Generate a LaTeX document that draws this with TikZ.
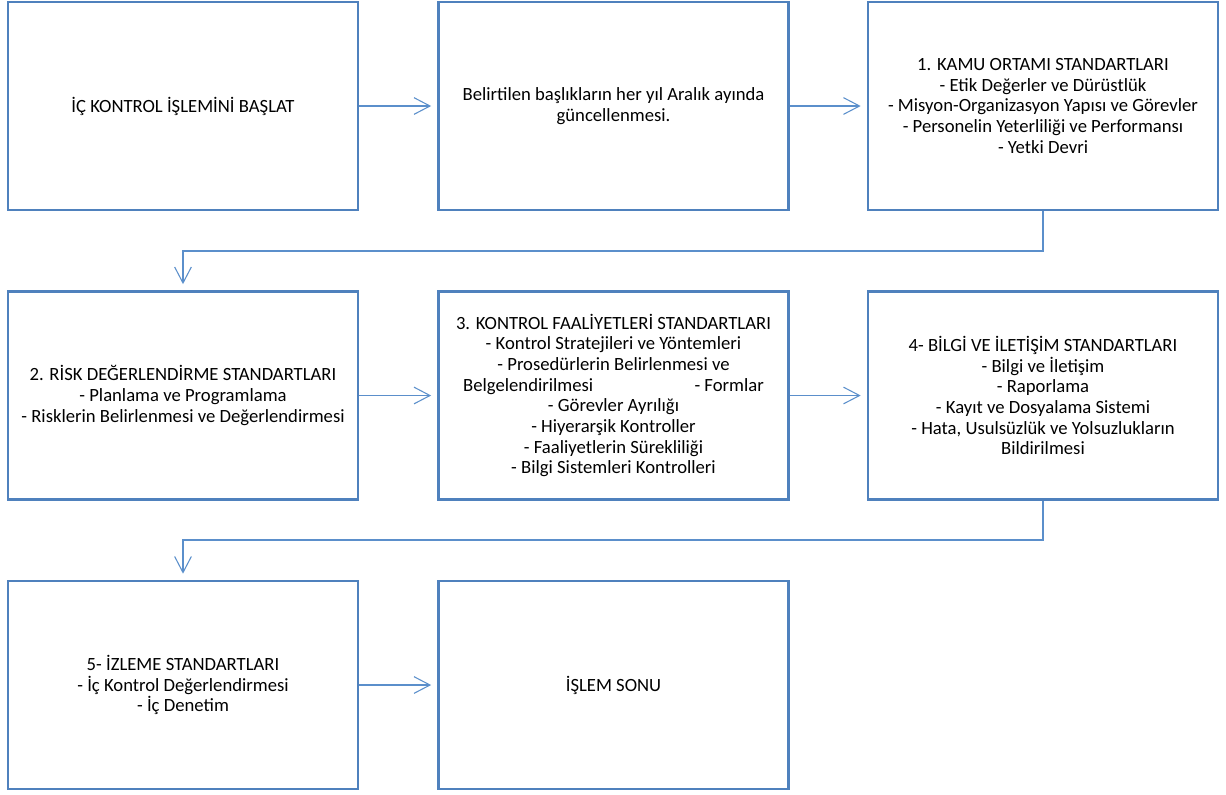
\documentclass[tikz,border=0pt]{standalone}
\usepackage{fontspec}
\setmainfont{Carlito}
\usepackage{xcolor}
\usetikzlibrary{arrows.meta,positioning,calc}

\definecolor{boxblue}{HTML}{4F81BD}
\definecolor{lineblue}{HTML}{5B8FCB}

\begin{document}
\begin{tikzpicture}[
    x=0.75pt, y=-0.75pt,
    stepbox/.style={rectangle, draw=boxblue, line width=2pt, fill=white, minimum width=262.5pt, minimum height=156pt, align=center, font=\fontsize{14}{15.5}\selectfont, text=black},
    arrow/.style={-{Straight Barb[length=12pt,width=12.5pt]}, draw=lineblue, line width=0.8pt, shorten >=4.5pt}
]
\useasboundingbox (0,0) rectangle (1226,794);

% Row 1
\node[stepbox] (start) at (183,106) {İÇ KONTROL İŞLEMİNİ BAŞLAT};
\node[stepbox] (update) at (613.5,106) {Belirtilen başlıkların her yıl Aralık ayında\\güncellenmesi.};
\node[stepbox] (kamu) at (1043,106) {1. KAMU ORTAMI STANDARTLARI\\- Etik Değerler ve Dürüstlük\\- Misyon-Organizasyon Yapısı ve Görevler\\- Personelin Yeterliliği ve Performansı\\- Yetki Devri};

% Row 2
\node[stepbox] (risk) at (183,395.5) {2. RİSK DEĞERLENDİRME STANDARTLARI\\- Planlama ve Programlama\\- Risklerin Belirlenmesi ve Değerlendirmesi};
\node[stepbox] (kontrol) at (613.5,395.5) {3. KONTROL FAALİYETLERİ STANDARTLARI\\- Kontrol Stratejileri ve Yöntemleri\\- Prosedürlerin Belirlenmesi ve\\Belgelendirilmesi\hspace{76pt}- Formlar\\- Görevler Ayrılığı\\- Hiyerarşik Kontroller\\- Faaliyetlerin Sürekliliği\\- Bilgi Sistemleri Kontrolleri};
\node[stepbox] (bilgi) at (1043,395.5) {4- BİLGİ VE İLETİŞİM STANDARTLARI\\- Bilgi ve İletişim\\- Raporlama\\- Kayıt ve Dosyalama Sistemi\\- Hata, Usulsüzlük ve Yolsuzlukların\\Bildirilmesi};

% Row 3
\node[stepbox] (izleme) at (183,685) {5- İZLEME STANDARTLARI\\- İç Kontrol Değerlendirmesi\\- İç Denetim};
\node[stepbox] (son) at (613.5,685) {İŞLEM SONU};

% Elbow points
\coordinate (k1) at (1043,251);
\coordinate (k2) at (1043,540);

% Arrows
\draw[arrow] (start) -- (update);
\draw[arrow] (update) -- (kamu);
\draw[arrow] (kamu.south) -- (k1) -| (risk.north);
\draw[arrow] (risk) -- (kontrol);
\draw[arrow] (kontrol) -- (bilgi);
\draw[arrow] (bilgi.south) -- (k2) -| (izleme.north);
\draw[arrow] (izleme) -- (son);

\end{tikzpicture}
\end{document}
